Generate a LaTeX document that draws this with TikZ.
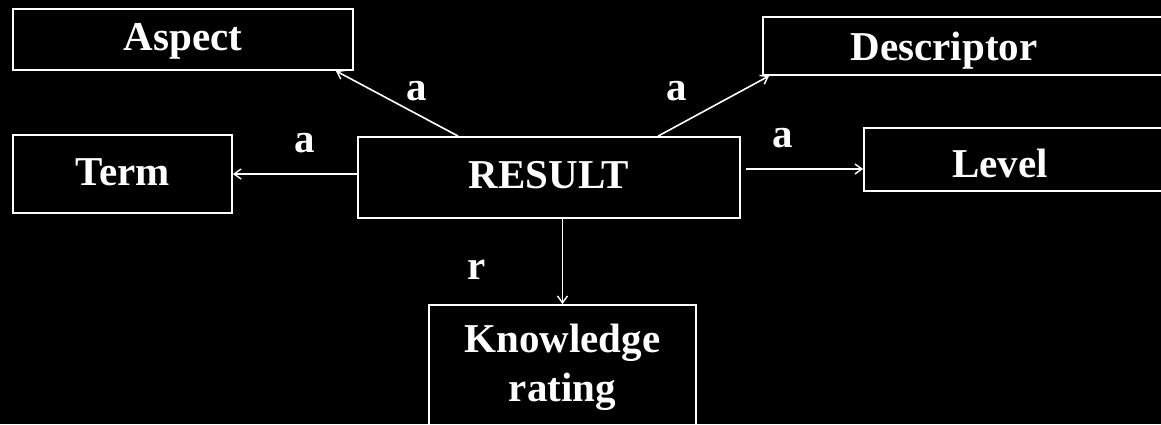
\documentclass[tikz,border=0pt]{standalone}
\usepackage{fontspec}
\setmainfont{Liberation Serif}
\usetikzlibrary{arrows.meta,calc}
\begin{document}
\begin{tikzpicture}[x=1pt,y=1pt,
  box/.style={draw=white, line width=1.8pt, rectangle, inner sep=0pt, text=white,
    font=\bfseries\fontsize{41}{49}\selectfont, align=center},
  oneline/.style={text height=28pt, text depth=6pt},
  lbl/.style={text=white, font=\bfseries\fontsize{41}{49}\selectfont, inner sep=0pt, anchor=base},
  conn/.style={draw=white, line width=1.6pt, -{Straight Barb[length=7pt,width=10pt,line width=1.4pt]}}]
\fill[black] (0,0) rectangle (1161,-424);
\useasboundingbox (0,0) rectangle (1161,-424);
\clip (0,0) rectangle (1161,-424);
% boxes
\node[box, oneline, minimum width=340, minimum height=61] (aspect) at (183,-39.5) {Aspect};
\node[box, oneline, minimum width=219, minimum height=78] (term) at (122.5,-174) {Term};
\node[box, oneline, minimum width=382, minimum height=81] (result) at (549,-177.5) {RESULT};
\node[box, minimum width=422, minimum height=58] (desc) at (974,-46) {};
\node[lbl] (desctext) at (944,-60) {Descriptor};
\node[box, minimum width=321, minimum height=63] (level) at (1024.5,-159.5) {};
\node[lbl] (leveltext) at (1000,-177) {Level};
\node[box, minimum width=267, minimum height=125] (know) at (562.5,-367.5) {Knowledge\\rating};
% connectors
\draw[conn] ($(result.north west)+(101,0)$) -- ($(aspect.south east)+(-18,0)$);
\draw[conn] ($(result.north west)+(301,0)$) -- ($(desc.south west)+(7,0)$);
\draw[conn] (term.east -| result.west) -- (term.east);
\coordinate (lvs) at ($(result.east)+(5,8.5)$);
\draw[conn] (lvs) -- (lvs -| level.west);
\draw[conn] (know.north |- result.south) -- (know.north);
% labels
\node[lbl] (la1) at (417,-100) {a};
\node[lbl] (la2) at (305,-152) {a};
\node[lbl] (la3) at (677,-100) {a};
\node[lbl] (la4) at (783,-147) {a};
\node[lbl] (lr) at (477,-279) {r};
\end{tikzpicture}
\end{document}
